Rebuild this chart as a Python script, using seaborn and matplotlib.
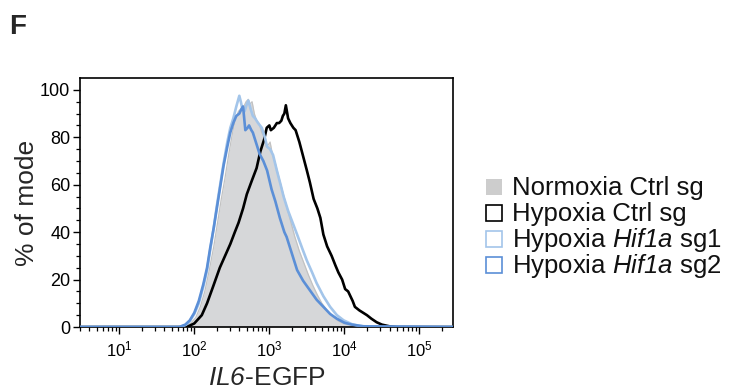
import numpy as np
import pandas as pd
import matplotlib
matplotlib.use("Agg")
import matplotlib.pyplot as plt
from matplotlib.patches import Rectangle
import seaborn as sns

# ---- data (log10 of IL6-EGFP intensity, % of mode) ----
normoxia_log = [0.45, 1.85, 1.95, 2.02, 2.08, 2.14, 2.20, 2.26, 2.31, 2.36, 2.41, 2.46, 2.51, 2.55, 2.59,
                2.62, 2.66, 2.69, 2.72, 2.74, 2.77, 2.80, 2.83, 2.86, 2.90, 2.93, 2.96, 2.99, 3.01, 3.04,
                3.08, 3.12, 3.17, 3.22, 3.28, 3.34, 3.40, 3.46, 3.52, 3.58, 3.64, 3.70, 3.77, 3.84, 3.92,
                4.00, 4.10, 4.22, 4.40, 5.45]
normoxia_val = [0, 0, 1.5, 4, 8.5, 15, 24, 34, 44, 54, 63, 73, 82, 88, 91,
                92, 93, 95, 96, 94, 95, 90, 87, 86, 82, 80, 76, 77, 78, 73,
                69, 64, 58, 52, 45, 38, 32, 27, 22, 17.5, 13.5, 10, 7, 4.5, 2.5,
                1.3, 0.6, 0.2, 0, 0]

hyp_ctrl_log = [0.45, 1.90, 2.00, 2.10, 2.17, 2.25, 2.34, 2.41, 2.48, 2.54, 2.59, 2.65, 2.70, 2.77, 2.83,
                2.88, 2.93, 2.965, 3.00, 3.02, 3.06, 3.10, 3.13, 3.16, 3.18, 3.20, 3.22, 3.25, 3.28, 3.32,
                3.35, 3.40, 3.45, 3.50, 3.54, 3.59, 3.64, 3.68, 3.72, 3.77, 3.83, 3.88, 3.92, 3.97, 4.01,
                4.05, 4.08, 4.11, 4.14, 4.20, 4.25, 4.30, 4.36, 4.43, 4.50, 4.60, 4.70, 5.45]
hyp_ctrl_val = [0, 0, 1.5, 5, 10, 17, 25, 30, 35, 40, 44, 50, 56, 62, 67,
                74, 79, 84, 85, 83, 84, 86, 86, 87, 89, 90, 93.5, 88, 86, 84,
                83, 78, 72, 66, 61, 54, 50, 46, 39, 34, 30, 26, 23, 20, 16,
                15, 13, 11, 8.5, 7, 6, 5, 3.5, 2, 1, 0.3, 0, 0]

sg1_log = [0.45, 1.80, 1.88, 1.94, 2.00, 2.06, 2.12, 2.17, 2.21, 2.26, 2.30, 2.35, 2.39, 2.44, 2.48,
           2.52, 2.56, 2.60, 2.62, 2.64, 2.67, 2.70, 2.72, 2.75, 2.78, 2.81, 2.85, 2.90, 2.94, 2.97,
           3.01, 3.05, 3.10, 3.15, 3.19, 3.25, 3.31, 3.37, 3.44, 3.50, 3.57, 3.63, 3.72, 3.81, 3.90,
           3.99, 4.10, 4.20, 4.35, 5.45]
sg1_val = [0, 0, 0.8, 2.5, 5.5, 10, 17, 24, 32, 42, 51, 61, 69, 78, 84,
           88, 93, 97.5, 95, 92, 91, 94, 95.5, 92, 89, 88, 86, 84, 80, 76,
           75, 72.5, 66, 60, 55, 49, 44, 39, 33, 28, 23, 18.5, 13, 8.5, 5,
           2.8, 1.2, 0.5, 0, 0]

sg2_log = [0.45, 1.80, 1.88, 1.94, 2.00, 2.06, 2.12, 2.17, 2.21, 2.26, 2.30, 2.35, 2.39, 2.44, 2.48,
           2.52, 2.56, 2.60, 2.63, 2.65, 2.68, 2.71, 2.73, 2.76, 2.78, 2.82, 2.87, 2.92, 2.97, 3.03,
           3.08, 3.14, 3.20, 3.23, 3.30, 3.37, 3.45, 3.54, 3.63, 3.72, 3.81, 3.90, 4.00, 4.10, 4.25,
           5.45]
sg2_val = [0, 0, 1, 2.8, 6, 11, 18, 25, 33, 42, 50, 60, 68, 76, 82,
           86, 89, 90, 92, 93, 83, 84, 85, 83, 82, 78, 73, 70, 66, 58,
           53, 46, 40, 38, 31, 24, 19.5, 15.5, 11.5, 8.5, 5.5, 3.5, 1.8, 1, 0.3,
           0]

# \mathbf is mapped to the italic face below so that digits stay italic too
labels = ["Normoxia Ctrl sg", "Hypoxia Ctrl sg",
          "Hypoxia $\\mathbf{Hif1a}$ sg1", "Hypoxia $\\mathbf{Hif1a}$ sg2"]
y_ticks = [0, 20, 40, 60, 80, 100]

# ---- style ----
sns.set_style("ticks")
plt.rcParams["font.family"] = ["Liberation Sans", "DejaVu Sans"]
plt.rcParams["mathtext.fontset"] = "custom"
plt.rcParams["mathtext.rm"] = "Liberation Sans"
plt.rcParams["mathtext.it"] = "Liberation Sans:italic"
plt.rcParams["mathtext.bf"] = "Liberation Sans:italic"

grey_fill = "#d6d7d9"
grey_edge = "#c2c2c2"
black = "#000000"
light_blue = "#a3c5ea"
mid_blue = "#5b8fd7"

W, H = 729, 390
fig = plt.figure(figsize=(W / 100, H / 100), dpi=100)
ax = fig.add_axes([80 / W, 1 - 327 / H, 373 / W, 249 / H])

frames = []
for name, lx, lv in [("hyp", hyp_ctrl_log, hyp_ctrl_val),
                     ("sg1", sg1_log, sg1_val),
                     ("sg2", sg2_log, sg2_val)]:
    frames.append(pd.DataFrame({"x": np.power(10.0, lx), "y": lv, "s": name}))
df = pd.concat(frames, ignore_index=True)

nx = np.power(10.0, normoxia_log)
ax.fill_between(nx, 0, normoxia_val, color=grey_fill, lw=0, zorder=1)
ax.plot(nx, normoxia_val, color=grey_edge, lw=0.9, zorder=1.5)

sns.lineplot(data=df, x="x", y="y", hue="s", estimator=None, sort=False,
             palette={"hyp": black, "sg1": light_blue, "sg2": mid_blue},
             hue_order=["hyp", "sg1", "sg2"], linewidth=1.9, legend=False, ax=ax, zorder=3)

ax.set_xscale("log")
ax.set_xlim(3.0, 2.8e5)
ax.set_ylim(0, 105)
ax.set_yticks(y_ticks)
ax.set_yticks(np.arange(0, 105, 5), minor=True)
ax.set_xticks([1e1, 1e2, 1e3, 1e4, 1e5])

for sp in ax.spines.values():
    sp.set_visible(True)
    sp.set_color("black")
    sp.set_linewidth(1.2)

ax.tick_params(axis="both", which="major", direction="out", length=5, width=1.0,
               colors="black", pad=2)
ax.tick_params(axis="both", which="minor", direction="out", length=3, width=0.9, colors="black")
ax.tick_params(axis="y", labelsize=13)
ax.tick_params(axis="x", labelsize=12, pad=4)

ax.set_xlabel("$\\mathbf{IL6}$-EGFP", fontsize=19, labelpad=5)
ax.set_ylabel("% of mode", fontsize=19, labelpad=1)

# ---- legend (drawn as figure artists) ----
leg_colors = [("#cdcdcd", "none"), ("white", black), ("white", light_blue), ("white", mid_blue)]
row_bottom = [195, 221, 247, 273]
for (fc, ec), lab, yb in zip(leg_colors, labels, row_bottom):
    fig.patches.append(Rectangle((486 / W, 1 - yb / H), 16 / W, 16 / H,
                                 transform=fig.transFigure, facecolor=fc,
                                 edgecolor=ec, lw=1.2 if ec != "none" else 0))
    fig.text(512 / W, 1 - (yb - 0.5) / H, lab, fontsize=18.5, ha="left", va="baseline",
             color="#111111")

fig.text(0.012, 0.93, "F", fontsize=20, fontweight="bold", ha="left", va="center")

fig.savefig("out.png", dpi=100)
